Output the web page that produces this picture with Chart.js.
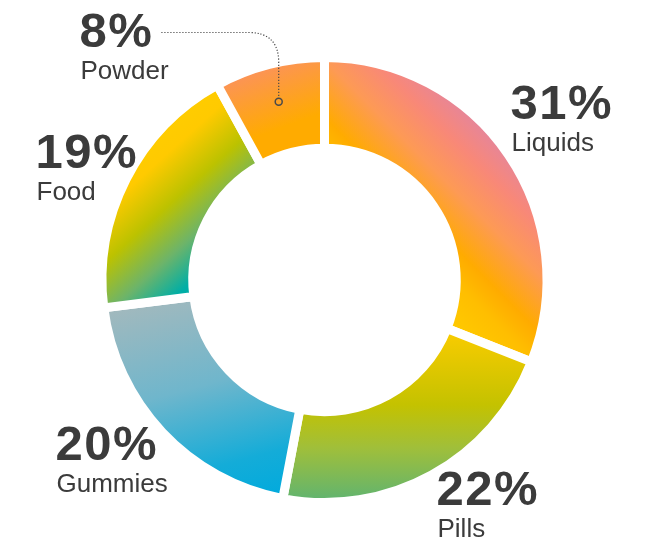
<!DOCTYPE html>
<html>
<head>
<meta charset="utf-8">
<style>
  html, body { margin: 0; padding: 0; background: #fff; }
  canvas { display: block; }
</style>
</head>
<body>
<canvas id="productChart" width="645" height="542"></canvas>
<script src="https://cdn.jsdelivr.net/npm/chart.js@4.4.1/dist/chart.umd.min.js"></script>
<script>
// Share by product form
const categories = ['Liquids', 'Pills', 'Gummies', 'Food', 'Powder'];
const shares = [31, 22, 20, 19, 8];
const shareLabels = ['31%', '22%', '20%', '19%', '8%'];

// gradient per slice: direction (deg, clockwise from up), start/end as fraction of radius, colour stops
const sliceGradients = [
  { dir: 45, from: 0.23, to: 1.03, stops: [[0, '#ffcc00'], [0.23, '#ffbe00'], [0.37, '#ffab00'], [0.6, '#fd9a55'], [0.8, '#f88878'], [1, '#e3859f']] },
  { dir: 180, from: 0.22, to: 1.0, stops: [[0, '#fccc00'], [0.45, '#c4c200'], [0.7, '#a0bf3a'], [1, '#62b46e']] },
  { dir: 165, from: -0.16, to: 0.91, stops: [[0, '#a6b9bc'], [0.45, '#6fb6cc'], [0.8, '#14acd8'], [1, '#00aadd']] },
  { dir: 318, from: 0.40, to: 1.0, stops: [[0, '#00aea6'], [0.25, '#6cb46a'], [0.55, '#bcc200'], [0.85, '#ffca00'], [1, '#ffcc00']] },
  { dir: 340, from: 0.6, to: 1.0, stops: [[0, '#ffab00'], [0.3, '#ffab00'], [1, '#fc9455']] }
];

// where each label sits, relative to the doughnut centre (left x, baseline of the big number)
const labelSpots = [[186, -161], [112, 225], [-269, 180], [-289, -112], [-245, -233]];

function sliceFill(context) {
  const chart = context.chart;
  const area = chart.chartArea;
  const g = sliceGradients[context.dataIndex];
  if (!area || !g) return '#ffab00';
  const cx = (area.left + area.right) / 2;
  const cy = (area.top + area.bottom) / 2;
  const R = Math.min(area.right - area.left, area.bottom - area.top) / 2 - 8;
  const a = g.dir * Math.PI / 180;
  const nx = Math.sin(a), ny = -Math.cos(a);
  const grad = chart.ctx.createLinearGradient(
    cx + nx * g.from * R, cy + ny * g.from * R,
    cx + nx * g.to * R, cy + ny * g.to * R
  );
  g.stops.forEach(([o, c]) => grad.addColorStop(o, c));
  return grad;
}

const bigFont = 'bold 49px "Liberation Sans", Arial, sans-serif';
const smallFont = '26px "Liberation Sans", Arial, sans-serif';

const labelPlugin = {
  id: 'sliceLabels',
  afterDraw(chart) {
    const ctx = chart.ctx;
    const arcs = chart.getDatasetMeta(0).data;
    ctx.save();
    ctx.fillStyle = '#3b3b3b';
    ctx.textAlign = 'left';
    ctx.textBaseline = 'alphabetic';
    arcs.forEach((arc, i) => {
      const x = arc.x + labelSpots[i][0];
      const y = arc.y + labelSpots[i][1];
      ctx.font = bigFont;
      ctx.letterSpacing = '1.5px';
      ctx.fillText(shareLabels[i], x, y);
      ctx.font = smallFont;
      ctx.letterSpacing = '0px';
      ctx.fillText(categories[i], x + 1, y + 32);
    });

    // dotted leader for the small Powder slice
    const p = arcs[4];
    const mid = (p.startAngle + p.endAngle) / 2;
    const r = (p.innerRadius + p.outerRadius) / 2 + 7;
    const mx = p.x + Math.cos(mid) * r;
    const my = p.y + Math.sin(mid) * r;
    const lineY = p.y - p.outerRadius - 25;
    ctx.font = bigFont;
    ctx.letterSpacing = '1.5px';
    const startX = p.x + labelSpots[4][0] + ctx.measureText(shareLabels[4]).width + 8;
    ctx.strokeStyle = '#4a4a4a';
    ctx.lineWidth = 1.2;
    ctx.setLineDash([1.2, 1.8]);
    ctx.beginPath();
    ctx.moveTo(startX, lineY);
    ctx.lineTo(mx - 30, lineY);
    ctx.quadraticCurveTo(mx, lineY, mx, lineY + 30);
    ctx.lineTo(mx, my - 4);
    ctx.stroke();
    ctx.setLineDash([]);
    ctx.lineWidth = 1.5;
    ctx.beginPath();
    ctx.arc(mx, my, 3.5, 0, Math.PI * 2);
    ctx.stroke();
    ctx.restore();
  }
};

new Chart(document.getElementById('productChart'), {
  type: 'doughnut',
  data: {
    labels: categories,
    datasets: [{
      data: shares,
      backgroundColor: sliceFill,
      borderColor: '#ffffff',
      borderWidth: 9,
      hoverBorderWidth: 9,
      hoverOffset: 0,
      offset: 0
    }]
  },
  options: {
    responsive: false,
    animation: false,
    cutout: '59.2%',
    layout: { padding: { top: 53, bottom: 35, left: 97.5, right: 93.5 } },
    plugins: { legend: { display: false }, tooltip: { enabled: false } },
    events: []
  },
  plugins: [labelPlugin]
});
</script>
</body>
</html>
